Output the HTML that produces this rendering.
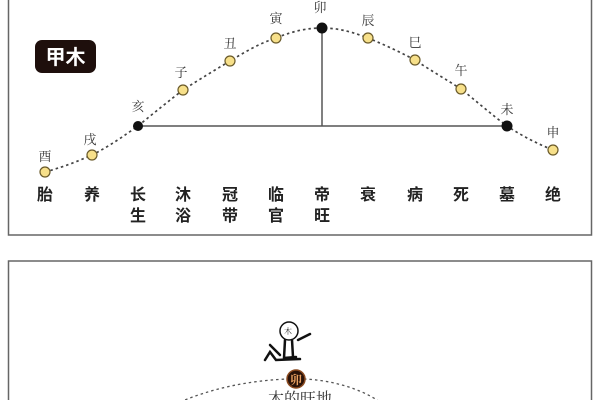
<!DOCTYPE html>
<html><head><meta charset="utf-8"><style>
html,body{margin:0;padding:0;background:#fff;}
svg{display:block;font-family:"Liberation Serif","Noto Serif CJK SC",serif;}
.s{font-family:"Liberation Sans","Noto Sans CJK SC",sans-serif;}
</style></head><body>
<svg width="600" height="400" viewBox="0 0 600 400" xmlns="http://www.w3.org/2000/svg">
<rect x="0" y="0" width="600" height="400" fill="#fff"/>
<rect x="8.5" y="-5" width="583" height="240" fill="#fff" stroke="#666" stroke-width="1.5"/>
<rect x="35" y="40" width="61" height="33" rx="7" fill="#1e0f0c"/>
<text x="65.5" y="64" text-anchor="middle" fill="#fff" font-size="20" font-weight="bold" class="s">甲木</text>
<path d="M45,172 C70,165 80,160 92,155 C110,146 125,135 138,126 C155,112 170,100 183,90 C200,79 215,70 230,61 C245,52 260,43 276,38 C295,30 310,28 322,28 C340,28 355,33 368,38 C385,45 400,52 415,60 C430,70 447,80 461,89 C475,100 492,115 507,126 C522,136 538,144 553,150" fill="none" stroke="#444" stroke-width="1.7" stroke-dasharray="2.5,3"/>
<line x1="138" y1="126" x2="507" y2="126" stroke="#555" stroke-width="1.5"/>
<line x1="322" y1="28" x2="322" y2="126" stroke="#555" stroke-width="1.5"/>
<g fill="#f7e08a" stroke="#6a5a2a" stroke-width="1.2">
<circle cx="45" cy="172" r="5"/><circle cx="92" cy="155" r="5"/><circle cx="183" cy="90" r="5"/><circle cx="230" cy="61" r="5"/><circle cx="276" cy="38" r="5"/><circle cx="368" cy="38" r="5"/><circle cx="415" cy="60" r="5"/><circle cx="461" cy="89" r="5"/><circle cx="553" cy="150" r="5"/>
</g>
<g fill="#111"><circle cx="138" cy="126" r="5"/><circle cx="322" cy="28" r="5.5"/><circle cx="507" cy="126" r="5.5"/></g>
<g font-size="13" fill="#333" text-anchor="middle">
<text x="45" y="161">酉</text><text x="90" y="144">戌</text><text x="138" y="111">亥</text><text x="181" y="77">子</text><text x="230" y="48">丑</text><text x="276" y="23">寅</text><text x="320" y="12">卯</text><text x="368" y="25">辰</text><text x="415" y="47">巳</text><text x="461" y="75">午</text><text x="507" y="114">未</text><text x="553" y="137">申</text>
</g>
<g font-size="16" fill="#222" text-anchor="middle" font-weight="bold" class="s">
<text x="45" y="200">胎</text><text x="92" y="200">养</text><text x="138" y="200">长</text><text x="138" y="221">生</text><text x="183" y="200">沐</text><text x="183" y="221">浴</text><text x="230" y="200">冠</text><text x="230" y="221">带</text><text x="276" y="200">临</text><text x="276" y="221">官</text><text x="322" y="200">帝</text><text x="322" y="221">旺</text><text x="368" y="200">衰</text><text x="415" y="200">病</text><text x="461" y="200">死</text><text x="507" y="200">墓</text><text x="553" y="200">绝</text>
</g>
<rect x="8.5" y="261" width="583" height="150" fill="#fff" stroke="#666" stroke-width="1.5"/>
<path d="M180,402 C220,385 260,380 288,379 M304,379 C330,380 360,388 380,402" fill="none" stroke="#555" stroke-width="1.3" stroke-dasharray="2.5,3"/>
<circle cx="296" cy="379" r="9" fill="#2a1208" stroke="#8a4a20" stroke-width="1.5"/>
<text x="296" y="384" text-anchor="middle" font-size="12" fill="#e8a060" font-weight="bold">卯</text>
<text x="300" y="404" text-anchor="middle" font-size="16" fill="#333">木的旺地</text>
<circle cx="289" cy="331" r="9" fill="#fff" stroke="#111" stroke-width="1.5"/>
<text x="288" y="334" text-anchor="middle" font-size="8" fill="#333">木</text>
<path d="M270,345 L280,355 M298,340 L310,334 M285,340 L284,358 L296,357 M292,340 L293,357 M265,360 L270,352 L276,360 L300,359" fill="none" stroke="#111" stroke-width="2.5" stroke-linecap="round"/>
</svg>
</body></html>
